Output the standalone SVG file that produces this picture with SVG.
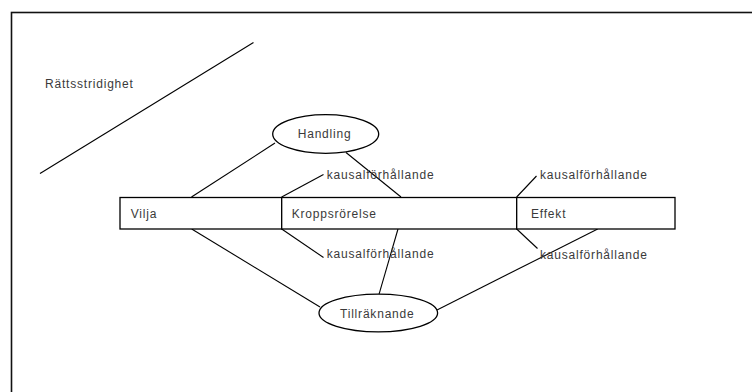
<svg xmlns="http://www.w3.org/2000/svg" width="752" height="392" viewBox="0 0 752 392">
<style>
text{font-family:"Liberation Sans",Arial,sans-serif;font-size:12px;letter-spacing:0.8px;fill:#3a3a3a}
.ln{stroke:#000;stroke-width:1.1;fill:none}
.shape{stroke:#000;stroke-width:1.3;fill:#fff}
</style>
<rect x="0" y="0" width="752" height="392" fill="#fff"/>
<rect x="11.5" y="12.5" width="760" height="400" fill="none" stroke="#111" stroke-width="1.6"/>
<g id="rattsstridighet">
<line class="ln" x1="40" y1="173.5" x2="253.5" y2="42.5"/>
<text x="45" y="87.5">Rättsstridighet</text>
</g>
<g id="connectors">
<line class="ln" x1="275" y1="143" x2="191.5" y2="197"/>
<line class="ln" x1="346" y1="152.5" x2="401" y2="197"/>
<line class="ln" x1="281.7" y1="197" x2="323.5" y2="174.5"/>
<line class="ln" x1="516.7" y1="197" x2="536.5" y2="176"/>
<line class="ln" x1="191.7" y1="229" x2="320" y2="307"/>
<line class="ln" x1="281.7" y1="229" x2="323.5" y2="257.5"/>
<line class="ln" x1="398" y1="229" x2="379" y2="294.3"/>
<line class="ln" x1="516.7" y1="229" x2="537.5" y2="248.5"/>
<line class="ln" x1="597.7" y1="229" x2="437" y2="310"/>
</g>
<g id="handling">
<ellipse class="shape" cx="325.7" cy="134" rx="53" ry="19.3"/>
<text x="297.7" y="138">Handling</text>
</g>
<g id="tillraknande">
<ellipse class="shape" cx="378.3" cy="313" rx="59.3" ry="18.8"/>
<text x="340" y="317.5">Tillräknande</text>
</g>
<g id="vilja">
<rect class="shape" x="120" y="197.5" width="161.7" height="31.5"/>
<text x="130.7" y="218">Vilja</text>
</g>
<g id="kroppsrorelse">
<rect class="shape" x="281.7" y="197.5" width="235" height="31.5"/>
<text x="291.7" y="218">Kroppsrörelse</text>
</g>
<g id="effekt">
<rect class="shape" x="516.7" y="197.5" width="158.3" height="31.5"/>
<text x="531" y="217.5">Effekt</text>
</g>
<g id="labels">
<text x="326.7" y="179">kausalförhållande</text>
<text x="540" y="179">kausalförhållande</text>
<text x="326.7" y="258">kausalförhållande</text>
<text x="540" y="259">kausalförhållande</text>
</g>
</svg>
